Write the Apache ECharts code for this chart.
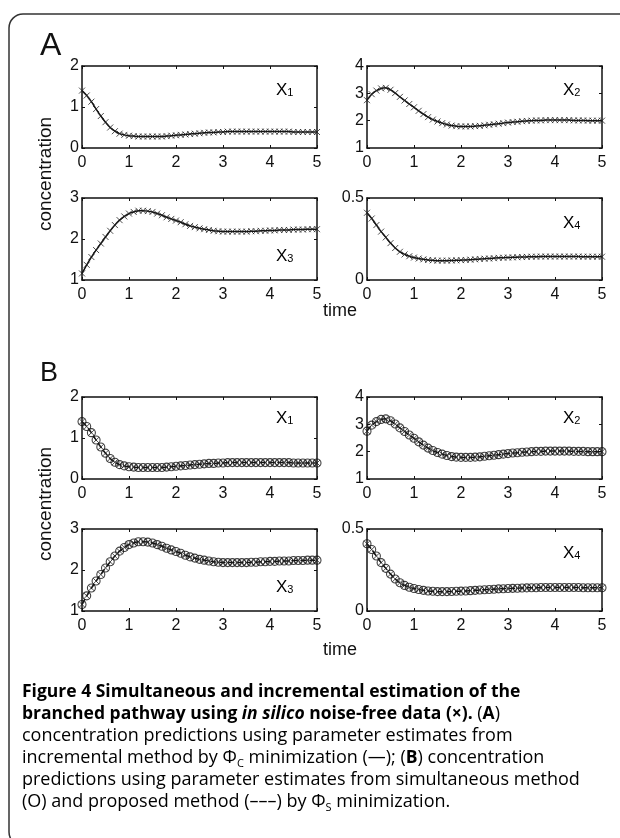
<!DOCTYPE html>
<html><head><meta charset="utf-8">
<script src="https://cdn.jsdelivr.net/npm/echarts@6/dist/echarts.min.js"></script>
<style>html,body{margin:0;padding:0;background:#fff}#c{width:620px;height:838px}</style>
</head><body><div id="c"></div>
<script>
// ---- data ----
const time = [0,0.1,0.2,0.3,0.4,0.5,0.6,0.7,0.8,0.9,1.0,1.1,1.2,1.3,1.4,1.5,1.6,1.7,1.8,1.9,2.0,2.1,2.2,2.3,2.4,2.5,2.6,2.7,2.8,2.9,3.0,3.1,3.2,3.3,3.4,3.5,3.6,3.7,3.8,3.9,4.0,4.1,4.2,4.3,4.4,4.5,4.6,4.7,4.8,4.9,5.0];
const x1 = [1.40,1.28,1.13,0.95,0.78,0.63,0.50,0.41,0.35,0.32,0.30,0.29,0.28,0.28,0.28,0.28,0.28,0.28,0.29,0.30,0.31,0.32,0.33,0.34,0.35,0.36,0.37,0.38,0.38,0.39,0.39,0.40,0.40,0.40,0.40,0.40,0.40,0.40,0.40,0.40,0.40,0.40,0.40,0.40,0.40,0.39,0.39,0.39,0.39,0.39,0.39];
const x2 = [2.75,2.97,3.10,3.18,3.20,3.13,3.01,2.87,2.74,2.61,2.49,2.36,2.24,2.13,2.04,1.97,1.91,1.86,1.82,1.80,1.79,1.79,1.79,1.80,1.81,1.83,1.85,1.87,1.89,1.91,1.93,1.95,1.96,1.98,1.99,2.00,2.01,2.01,2.02,2.02,2.02,2.02,2.02,2.02,2.01,2.01,2.01,2.00,2.00,2.00,2.00];
const x3 = [1.16,1.37,1.56,1.73,1.89,2.05,2.20,2.34,2.46,2.55,2.62,2.66,2.69,2.69,2.68,2.66,2.62,2.58,2.53,2.49,2.45,2.41,2.36,2.32,2.29,2.26,2.24,2.22,2.20,2.19,2.18,2.18,2.18,2.18,2.18,2.18,2.19,2.19,2.20,2.20,2.21,2.21,2.22,2.22,2.22,2.23,2.23,2.23,2.24,2.24,2.24];
const x4 = [0.410,0.375,0.335,0.295,0.260,0.225,0.195,0.172,0.156,0.145,0.137,0.131,0.126,0.122,0.120,0.118,0.118,0.118,0.119,0.120,0.121,0.122,0.124,0.126,0.128,0.130,0.131,0.133,0.135,0.136,0.137,0.138,0.139,0.140,0.141,0.142,0.142,0.143,0.143,0.143,0.143,0.143,0.143,0.143,0.143,0.143,0.142,0.142,0.142,0.142,0.142];
const variables = [x1, x2, x3, x4];
const varSubscripts = ['1','2','3','4'];
const yMin = [0, 1, 1, 0];
const yMax = [2, 4, 3, 0.5];
const yStep = [1, 1, 1, 0.5];
const xTickStep = 1;
const panelLetters = ['A','B'];
const yAxisTitle = 'concentration';
const xAxisTitle = 'time';

// ---- layout ----
const colLeft = [82, 367];
const rowTop = [66, 198, 397, 529];
const plotW = 235, plotH = 82;
const FONT = 'Liberation Sans, Arial, sans-serif';
const INK = '#111';

const grids = [], xAxes = [], yAxes = [], series = [];
const xSym = 'path://M0,0L10,10M10,0L0,10';

for (let p = 0; p < 2; p++) {
  for (let v = 0; v < 4; v++) {
    const g = p * 4 + v;
    const row = p * 2 + Math.floor(v / 2);
    const col = v % 2;
    grids.push({left: colLeft[col], top: rowTop[row], width: plotW, height: plotH, containLabel: false});
    const axLine = {show: true, onZero: false, lineStyle: {color: INK, width: 1.5}};
    const tick = {show: true, inside: true, length: 3, lineStyle: {color: INK, width: 1}};
    xAxes.push({gridIndex: g, type: 'value', position: 'bottom', min: 0, max: 5, interval: xTickStep,
      axisLine: axLine, axisTick: tick,
      axisLabel: {fontFamily: FONT, fontSize: 16, color: INK, margin: 7}, splitLine: {show: false}});
    xAxes.push({gridIndex: g, type: 'value', position: 'top', min: 0, max: 5, interval: xTickStep,
      axisLine: axLine, axisTick: tick, axisLabel: {show: false}, splitLine: {show: false}});
    yAxes.push({gridIndex: g, type: 'value', position: 'left', min: yMin[v], max: yMax[v], interval: yStep[v],
      axisLine: axLine, axisTick: tick,
      axisLabel: {fontFamily: FONT, fontSize: 16, color: INK, margin: 3,
        formatter: (val) => String(val)}, splitLine: {show: false}});
    yAxes.push({gridIndex: g, type: 'value', position: 'right', min: yMin[v], max: yMax[v], interval: yStep[v],
      axisLine: axLine, axisTick: tick, axisLabel: {show: false}, splitLine: {show: false}});
    const pts = time.map((t, i) => [t, variables[v][i]]);
    series.push({type: 'line', xAxisIndex: 2 * g, yAxisIndex: 2 * g, data: pts, showSymbol: false, smooth: 0.3,
      lineStyle: {color: INK, width: 1.5, type: p === 0 ? 'solid' : 'dashed'}, silent: true, z: 2, animation: false});
    if (p === 1) {
      series.push({type: 'scatter', xAxisIndex: 2 * g, yAxisIndex: 2 * g, data: pts, symbol: 'circle', symbolSize: 8,
        clip: false, itemStyle: {color: 'rgba(0,0,0,0)', borderColor: '#111', borderWidth: 1.1}, z: 3, animation: false});
    }
    series.push({type: 'scatter', xAxisIndex: 2 * g, yAxisIndex: 2 * g, data: pts, symbol: xSym, symbolSize: 6,
      clip: false, itemStyle: {color: 'rgba(0,0,0,0)', borderColor: '#222', borderWidth: 1}, z: 4, animation: false});
  }
}

// ---- text / decorations ----
const graphic = [];
graphic.push({type: 'rect', shape: {x: 9, y: 14, width: 660, height: 832, r: 14},
  style: {fill: 'none', stroke: '#333', lineWidth: 1.5}, silent: true});
graphic.push({type: 'text', x: 40, y: 46, style: {text: panelLetters[0], font: '32px ' + FONT, fill: INK, verticalAlign: 'middle'}});
graphic.push({type: 'text', x: 40, y: 374, style: {text: panelLetters[1], font: '27px ' + FONT, fill: INK, verticalAlign: 'middle'}});
// variable labels
const labelPos = [[276, 90], [563, 90], [276, 256], [563, 223], [276, 418], [563, 418], [276, 587], [563, 553]];
for (let g = 0; g < 8; g++) {
  const v = g % 4;
  graphic.push({type: 'text', x: labelPos[g][0], y: labelPos[g][1], style: {
    text: '{a|X}{b|' + varSubscripts[v] + '}', verticalAlign: 'middle',
    rich: {a: {fontFamily: FONT, fontSize: 17, color: INK, verticalAlign: 'bottom', lineHeight: 17},
           b: {fontFamily: FONT, fontSize: 11, color: INK, verticalAlign: 'bottom', lineHeight: 13}}}});
}
// axis titles
[174, 504].forEach(cy => graphic.push({type: 'text', x: 46, y: cy, rotation: Math.PI / 2,
  style: {text: yAxisTitle, font: '19px ' + FONT, fill: INK, align: 'center', verticalAlign: 'middle'}}));
[311, 650].forEach(cy => graphic.push({type: 'text', x: 340, y: cy,
  style: {text: xAxisTitle, font: '18px ' + FONT, fill: INK, align: 'center', verticalAlign: 'middle'}}));

// caption
const CF = '"Open Sans", Lato, sans-serif';
const rich = {
  b: {fontFamily: CF, fontSize: 17.5, fontWeight: 'bold', color: '#1a1a1a', lineHeight: 22, verticalAlign: 'middle'},
  bi: {fontFamily: CF, fontSize: 17.5, fontWeight: 'bold', fontStyle: 'italic', color: '#1a1a1a', lineHeight: 22, verticalAlign: 'middle'},
  r: {fontFamily: CF, fontSize: 18, color: '#383838', lineHeight: 22, verticalAlign: 'middle'},
  s: {fontFamily: CF, fontSize: 11, color: '#383838', lineHeight: 11, verticalAlign: 'bottom'}
};
const captionLines = [
  '{b|Figure 4 Simultaneous and incremental estimation of the}',
  '{b|branched pathway using }{bi|in silico}{b| noise-free data (×). }{r|(}{b|A}{r|)}',
  '{r|concentration predictions using parameter estimates from}',
  '{r|incremental method by Φ}{s|C}{r| minimization (—); (}{b|B}{r|) concentration}',
  '{r|predictions using parameter estimates from simultaneous method}',
  '{r|(O) and proposed method (–––) by Φ}{s|S}{r| minimization.}'
];
const capY = [692, 714, 736, 758, 780, 802];
captionLines.forEach((txt, i) => graphic.push({type: 'text', x: 22, y: capY[i],
  style: {text: txt, rich: rich, verticalAlign: 'middle'}}));

const chart = echarts.init(document.getElementById('c'), null, {renderer: 'canvas'});
chart.setOption({animation: false, backgroundColor: '#fff', grid: grids, xAxis: xAxes, yAxis: yAxes, series: series, graphic: graphic});
</script></body></html>
